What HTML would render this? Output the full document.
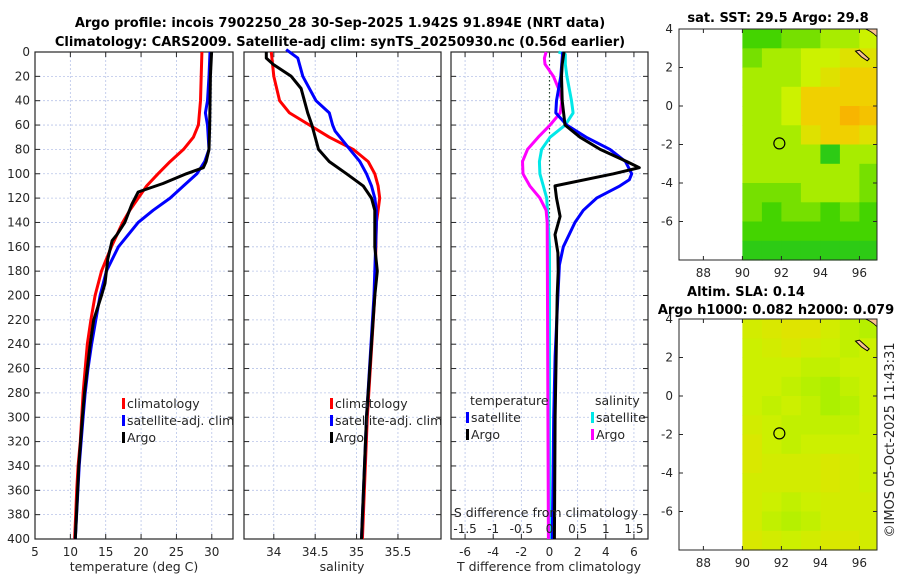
<!DOCTYPE html>
<html><head><meta charset="utf-8">
<style>
html,body{margin:0;padding:0;background:#fff;}
svg{display:block;font-family:"DejaVu Sans","Liberation Sans",sans-serif;}
</style></head>
<body>
<svg id="fig" width="900" height="580" viewBox="0 0 900 580" xmlns="http://www.w3.org/2000/svg">
<text x="340" y="27" text-anchor="middle" font-size="13" font-weight="bold">Argo profile: incois 7902250_28 30-Sep-2025 1.942S 91.894E (NRT data)</text>
<text x="340" y="46" text-anchor="middle" font-size="13" font-weight="bold">Climatology: CARS2009. Satellite-adj clim: synTS_20250930.nc (0.56d earlier)</text>
<text x="778" y="22" text-anchor="middle" font-size="13" font-weight="bold">sat. SST: 29.5 Argo: 29.8</text>
<text x="746" y="296" text-anchor="middle" font-size="13" font-weight="bold">Altim. SLA: 0.14</text>
<text x="776" y="314" text-anchor="middle" font-size="13" font-weight="bold">Argo h1000: 0.082 h2000: 0.079</text>
<text transform="translate(894,440) rotate(-90)" text-anchor="middle" font-size="13" fill="#262626">©IMOS 05-Oct-2025 11:43:31</text>
<g id="g"></g>
</svg>
<script>
// ---- profile data (depth in dbar) ----
const tClimDepth = [0,20,40,60,70,80,90,100,110,120,130,140,160,180,200,220,240,260,280,300,320,340,360,380,400];
const tClimVals  = [28.6,28.5,28.4,28.1,27.4,26.0,24.1,22.4,20.8,19.6,18.4,17.4,15.8,14.4,13.5,12.9,12.4,12.1,11.8,11.6,11.4,11.1,10.9,10.75,10.6];
const tSatDepth = [0,20,40,50,60,80,90,100,110,120,130,140,160,180,200,220,240,260,280,300,340,400];
const tSatVals  = [29.75,29.6,29.4,29.1,29.4,29.6,29.0,27.9,26.0,24.1,21.7,19.6,16.8,15.1,14.2,13.6,13.0,12.5,12.1,11.8,11.25,10.7];
const tArgoDepth = [0,20,60,80,90,95,100,108,115,125,140,150,155,170,190,200,220,240,260,280,300,340,400];
const tArgoVals  = [29.98,29.8,29.7,29.6,29.2,28.8,26.4,23.1,19.6,18.7,17.7,16.6,15.9,15.3,14.9,14.4,13.3,12.8,12.4,12.0,11.7,11.2,10.7];

const sClimDepth = [0,20,40,50,60,70,80,90,100,110,120,130,140,200,300,400];
const sClimVals  = [33.97,34.0,34.07,34.19,34.43,34.67,34.96,35.14,35.22,35.26,35.28,35.26,35.24,35.22,35.13,35.07];
const sSatDepth = [-2,5,20,40,50,60,65,80,90,100,110,120,130,140,200,300,400];
const sSatVals  = [34.15,34.29,34.35,34.51,34.67,34.71,34.74,34.92,35.04,35.12,35.18,35.22,35.24,35.24,35.21,35.12,35.06];
const sArgoDepth = [0,5,10,20,30,40,50,60,80,90,100,110,120,130,160,180,200,300,400];
const sArgoVals  = [33.91,33.91,33.99,34.21,34.33,34.37,34.41,34.46,34.54,34.67,34.88,35.08,35.18,35.22,35.22,35.25,35.22,35.12,35.06];

const dTSatDepth = [0,20,40,50,60,70,80,90,100,105,110,120,130,140,160,175,200,250,300,400];
const dTSatVals  = [0.94,0.8,0.5,0.45,1.22,2.6,4.3,5.4,5.84,5.67,5.0,3.35,2.4,1.81,0.98,0.7,0.6,0.4,0.3,0.2];
const dTArgoDepth = [0,10,20,40,60,70,80,90,95,100,110,120,135,150,165,180,200,300,400];
const dTArgoVals  = [1.03,0.9,0.85,0.9,1.1,2.17,3.6,5.5,6.38,4.54,0.39,0.5,0.75,0.39,0.6,0.62,0.55,0.4,0.35];
const dSSatDepth = [0,2,10,20,40,50,60,70,80,90,100,110,120,135,160,400];
const dSSatVals  = [0.16,0.28,0.28,0.31,0.39,0.42,0.28,0.01,-0.14,-0.18,-0.17,-0.11,-0.05,-0.03,0,0];
const dSArgoDepth = [0,5,10,20,30,40,50,60,70,80,90,100,110,120,130,140,400];
const dSArgoVals  = [-0.06,-0.09,-0.08,0.07,0.16,0.22,0.19,0.01,-0.2,-0.39,-0.48,-0.47,-0.35,-0.17,-0.06,-0.04,-0.02];

const depthTicks = [0,20,40,60,80,100,120,140,160,180,200,220,240,260,280,300,320,340,360,380,400];
const tempTicks = [5,10,15,20,25,30];
const salTicks = [34,34.5,35,35.5];
const salTickLabels = ["34","34.5","35","35.5"];
const dTTicks = [-6,-4,-2,0,2,4,6];
const dSTicks = [-1.5,-1,-0.5,0,0.5,1,1.5];

// ---- map data: 1-degree cells, lon 90..97, lat 4..-8 ----
const mapLons = [90,91,92,93,94,95,96];
const mapLats = [4,3,2,1,0,-1,-2,-3,-4,-5,-6,-7];
const sstGrid = [
 [0.3,0.3,0.4,0.4,0.5,0.5,0.6],
 [0.4,0.5,0.5,0.6,0.6,0.7,0.7],
 [0.5,0.5,0.5,0.6,0.7,0.8,0.8],
 [0.5,0.5,0.6,0.8,0.8,0.8,0.8],
 [0.5,0.5,0.6,0.8,0.8,0.9,0.85],
 [0.5,0.5,0.5,0.7,0.8,0.8,0.7],
 [0.5,0.5,0.5,0.5,0.2,0.5,0.5],
 [0.5,0.5,0.5,0.5,0.5,0.5,0.4],
 [0.4,0.4,0.4,0.5,0.5,0.5,0.4],
 [0.4,0.3,0.4,0.4,0.3,0.4,0.3],
 [0.3,0.3,0.3,0.3,0.3,0.3,0.3],
 [0.2,0.2,0.2,0.2,0.2,0.2,0.2]];
const slaGrid = [
 [0.6,0.7,0.8,0.8,0.6,0.4,0.3],
 [0.5,0.6,0.7,0.6,0.5,0.4,0.5],
 [0.5,0.5,0.5,0.4,0.4,0.5,0.5],
 [0.5,0.5,0.4,0.3,0.2,0.4,0.5],
 [0.5,0.4,0.5,0.4,0.2,0.3,0.5],
 [0.6,0.5,0.4,0.4,0.4,0.4,0.5],
 [0.7,0.5,0.4,0.5,0.5,0.5,0.5],
 [0.7,0.6,0.6,0.6,0.7,0.6,0.5],
 [0.6,0.6,0.6,0.6,0.7,0.6,0.5],
 [0.6,0.5,0.4,0.5,0.6,0.6,0.6],
 [0.6,0.4,0.3,0.4,0.6,0.6,0.6],
 [0.7,0.6,0.5,0.6,0.7,0.7,0.6]];
const mapLonTicks = [88,90,92,94,96];
const mapLatTicks = [4,2,0,-2,-4,-6];
const argoLon = 91.894, argoLat = -1.942;

const NS = "http://www.w3.org/2000/svg";
const G = document.getElementById("g");
function mk(tag, attrs, parent){ const e=document.createElementNS(NS,tag); for(const k in attrs) e.setAttribute(k,attrs[k]); (parent||G).appendChild(e); return e; }

const yTop=52, yBot=539;
const yD = d => yTop + (d/400)*(yBot-yTop);
const panels = [
  {x0:35,x1:233,min:5,max:33},
  {x0:244,x1:441,min:33.64,max:36.02},
  {x0:451,x1:648,min:-7,max:7}
];
const xS = (p,v) => p.x0 + (v-p.min)/(p.max-p.min)*(p.x1-p.x0);
const xSdiff = v => xS(panels[2], v*4);

function frame(p, name, xticks, xlabels){
  const grp = mk("g",{});
  
  
  xticks.forEach(t=>{ const x=xS(p,t); const l=mk("line",{x1:x,x2:x,y1:yTop,y2:yBot,stroke:"#b8c4e8","stroke-width":0.8,"stroke-dasharray":"2,2"},grp);
      });
  depthTicks.forEach(d=>{ const y=yD(d); const l=mk("line",{x1:p.x0,x2:p.x1,y1:y,y2:y,stroke:"#b8c4e8","stroke-width":0.8,"stroke-dasharray":"2,2"},grp);
     
    mk("line",{x1:p.x0,x2:p.x0+5,y1:y,y2:y,stroke:"#262626"},grp);
    mk("line",{x1:p.x1,x2:p.x1-5,y1:y,y2:y,stroke:"#262626"},grp); });
  xticks.forEach((t,i)=>{ const x=xS(p,t);
    mk("line",{x1:x,x2:x,y1:yBot,y2:yBot-5,stroke:"#262626"},grp);
    mk("line",{x1:x,x2:x,y1:yTop,y2:yTop+5,stroke:"#262626"},grp);
    if(xlabels){ const tx=mk("text",{x:x,y:yBot+17,"text-anchor":"middle","font-size":12,fill:"#262626"},grp); tx.textContent=xlabels[i];
        }
  });
  const r=mk("rect",{x:p.x0,y:yTop,width:p.x1-p.x0,height:yBot-yTop,fill:"none",stroke:"#262626","stroke-width":1.2},grp);
   
  return grp;
}
frame(panels[0],"temperature-panel",tempTicks,tempTicks.map(String));
frame(panels[1],"salinity-panel",salTicks,salTickLabels);
frame(panels[2],"difference-panel",dTTicks,dTTicks.map(String));

depthTicks.forEach(d=>{ const t=mk("text",{x:30,y:yD(d)+4,"text-anchor":"end","font-size":12,fill:"#262626"}); t.textContent=d;
    });

// zero line in diff panel
const zl=mk("line",{x1:xS(panels[2],0),x2:xS(panels[2],0),y1:yTop,y2:yBot,stroke:"#2a4a2a","stroke-width":1.2,"stroke-dasharray":"1.5,2.5"});
 

function series(depths, vals, xf, color, name){
  const pts = depths.map((d,i)=>xf(vals[i]).toFixed(1)+","+yD(d).toFixed(1)).join(" ");
  const pl = mk("polyline",{points:pts,fill:"none",stroke:color,"stroke-width":3,"stroke-linejoin":"round"});
  
  
}
series(tClimDepth,tClimVals,v=>xS(panels[0],v),"#ff0000","temp-climatology-line");
series(tSatDepth,tSatVals,v=>xS(panels[0],v),"#0000ff","temp-satellite-line");
series(tArgoDepth,tArgoVals,v=>xS(panels[0],v),"#000000","temp-argo-line");
series(sClimDepth,sClimVals,v=>xS(panels[1],v),"#ff0000","sal-climatology-line");
series(sSatDepth,sSatVals,v=>xS(panels[1],v),"#0000ff","sal-satellite-line");
series(sArgoDepth,sArgoVals,v=>xS(panels[1],v),"#000000","sal-argo-line");
series(dSSatDepth,dSSatVals,xSdiff,"#00e8e8","sdiff-satellite-line");
series(dSArgoDepth,dSArgoVals,xSdiff,"#ff00ff","sdiff-argo-line");
series(dTSatDepth,dTSatVals,v=>xS(panels[2],v),"#0000ff","tdiff-satellite-line");
series(dTArgoDepth,dTArgoVals,v=>xS(panels[2],v),"#000000","tdiff-argo-line");

// x-axis titles
[["temperature (deg C)",134,"temperature-axis-title"],["salinity",342,"salinity-axis-title"],["T difference from climatology",549,"tdiff-axis-title"]].forEach(a=>{
  const t=mk("text",{x:a[1],y:571,"text-anchor":"middle","font-size":12.5,fill:"#262626"}); t.textContent=a[0];
    });
const st=mk("text",{x:546,y:517,"text-anchor":"middle","font-size":12.5,fill:"#262626"}); st.textContent="S difference from climatology";
 
dSTicks.forEach(v=>{ const t=mk("text",{x:xSdiff(v),y:533,"text-anchor":"middle","font-size":12,fill:"#262626"}); t.textContent=String(v);
    });

// legends
function legend(x,y,color,label,name){
  const g=mk("g",{});  
  mk("rect",{x:x,y:y-10,width:3,height:11,fill:color},g);
  const t=mk("text",{x:x+5,y:y,"font-size":12.5,fill:"#262626"},g); t.textContent=label;
}
legend(122,408,"#ff0000","climatology","legend-climatology-temp");
legend(122,425,"#0000ff","satellite-adj. clim","legend-satellite-temp");
legend(122,442,"#000000","Argo","legend-argo-temp");
legend(330,408,"#ff0000","climatology","legend-climatology-sal");
legend(330,425,"#0000ff","satellite-adj. clim","legend-satellite-sal");
legend(330,442,"#000000","Argo","legend-argo-sal");
const lt1=mk("text",{x:470,y:405,"font-size":12.5,fill:"#262626"}); lt1.textContent="temperature";
 
const lt2=mk("text",{x:595,y:405,"font-size":12.5,fill:"#262626"}); lt2.textContent="salinity";
 
legend(466,422,"#0000ff","satellite","legend-tdiff-satellite");
legend(466,439,"#000000","Argo","legend-tdiff-argo");
legend(591,422,"#00e8e8","satellite","legend-sdiff-satellite");
legend(591,439,"#ff00ff","Argo","legend-sdiff-argo");

// ---- maps ----
function lerp(a,b,t){return a.map((v,i)=>Math.round(v+(b[i]-v)*t));}
function scale(stops,v){ for(let i=1;i<stops.length;i++){ if(v<=stops[i][0]){ const t=(v-stops[i-1][0])/(stops[i][0]-stops[i-1][0]); const c=lerp(stops[i-1][1],stops[i][1],t); return `rgb(${c[0]},${c[1]},${c[2]})`; } } const c=stops[stops.length-1][1]; return `rgb(${c[0]},${c[1]},${c[2]})`; }
const sstStops=[[0,[0,184,64]],[0.3,[68,212,0]],[0.5,[168,236,0]],[0.6,[204,242,0]],[0.8,[240,208,0]],[1,[255,153,0]]];
const slaStops=[[0,[150,240,0]],[0.5,[204,240,0]],[1,[236,220,0]]];

function map(top, grid, stops, name){
  const m={x0:679,x1:877,y0:top,y1:top+231,lon0:86.75,lon1:96.9,lat0:4,lat1:-8};
  const X=lon=>m.x0+(lon-m.lon0)/(m.lon1-m.lon0)*(m.x1-m.x0);
  const Y=lat=>m.y0+(lat-m.lat0)/(m.lat1-m.lat0)*(m.y1-m.y0);
  const g=mk("g",{});  
  mapLats.forEach((lat,r)=>mapLons.forEach((lon,c)=>{
    const x=X(lon), x2=Math.min(X(lon+1),m.x1-1);
    const cell=mk("rect",{x:x.toFixed(1),y:Y(lat).toFixed(1),width:(x2-x+0.5).toFixed(1),height:(Y(lat-1)-Y(lat)+0.5).toFixed(1),fill:scale(stops,grid[r][c])},g);
     
  }));
  // coast & island
  const coast=mk("path",{d:`M${X(96.3)} ${m.y0} L${m.x1} ${m.y0} L${m.x1} ${Y(3.6)} Q${X(96.6)} ${Y(3.9)} ${X(96.3)} ${m.y0} Z`,fill:"#f8c090",stroke:"#000","stroke-width":0.8},g);
   
  const isl=mk("path",{d:`M${X(95.8)} ${Y(2.85)} L${X(96.0)} ${Y(2.9)} L${X(96.5)} ${Y(2.45)} L${X(96.4)} ${Y(2.35)} L${X(96.1)} ${Y(2.55)} Z`,fill:"#f8c090",stroke:"#000","stroke-width":1},g);
   
  const fr=mk("rect",{x:m.x0,y:m.y0,width:m.x1-m.x0,height:m.y1-m.y0,fill:"none",stroke:"#262626","stroke-width":1},g);
   
  mapLonTicks.forEach(l=>{ const x=X(l); mk("line",{x1:x,x2:x,y1:m.y1,y2:m.y1-4,stroke:"#262626"},g); mk("line",{x1:x,x2:x,y1:m.y0,y2:m.y0+4,stroke:"#262626"},g);
    const t=mk("text",{x:x,y:m.y1+17,"text-anchor":"middle","font-size":12,fill:"#262626"},g); t.textContent=l;
      });
  mapLatTicks.forEach(l=>{ const y=Y(l); mk("line",{x1:m.x0,x2:m.x0+4,y1:y,y2:y,stroke:"#262626"},g); mk("line",{x1:m.x1,x2:m.x1-4,y1:y,y2:y,stroke:"#262626"},g);
    const t=mk("text",{x:m.x0-6,y:y+4,"text-anchor":"end","font-size":12,fill:"#262626"},g); t.textContent=l;
      });
  const c=mk("circle",{cx:X(argoLon),cy:Y(argoLat),r:5.5,fill:"none",stroke:"#000","stroke-width":1.2},g);
   
}
map(29,sstGrid,sstStops,"sst-map");
map(319,slaGrid,slaStops,"sla-map");
</script>
</body></html>
